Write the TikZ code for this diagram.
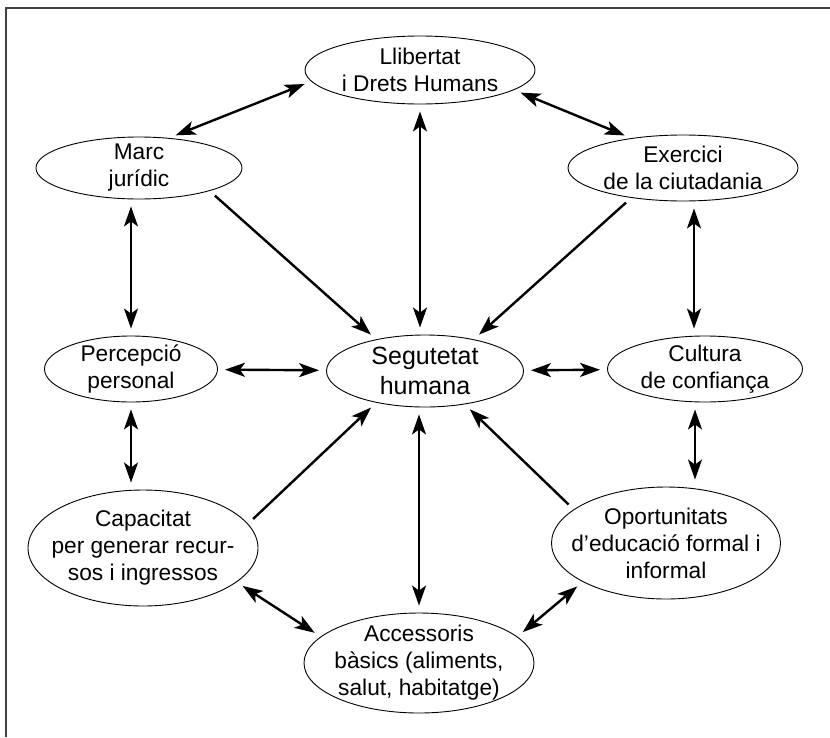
\documentclass[tikz,border=0pt]{standalone}
\usepackage{fontspec}
\setmainfont{Liberation Sans}
\usetikzlibrary{shapes.geometric,arrows.meta}
\begin{document}
\begin{tikzpicture}
        [
          x=1pt, y=-1pt,
          blob/.style={ellipse, draw, line width=0.9pt, align=center, inner xsep=-20pt, inner ysep=-6pt, font=\fontsize{22.7}{27}\selectfont},
          tip/.tip={Stealth[length=20pt,width=14pt,inset=5pt]},
          both/.style={line width=2.4pt, tip-tip, shorten <=7pt, shorten >=7pt},
          into/.style={line width=2.4pt, -tip, shorten <=7pt, shorten >=7pt},
          frame/.style={draw=black!75, line width=2pt}
        ]
        \useasboundingbox (0,0) rectangle (830,737);
        % frame
        \draw [frame] (830,7.5) -- (6,7.5) -- (6,737);
        % nodes
        \node [blob, minimum width=230pt, minimum height=68pt] (llib) at (420,70) {Llibertat\\i Drets Humans};
        \node [blob, minimum width=206pt, minimum height=62pt] (marc) at (139,168) {Marc\\jurídic};
        \node [blob, minimum width=230pt, minimum height=66pt] (exer) at (683,168) {Exercici\\de la ciutadania};
        \node [blob, minimum width=173pt, minimum height=66pt] (perc) at (131,369) {Percepció\\personal};
        \node [blob, minimum width=197pt, minimum height=72pt, font=\fontsize{25}{30}\selectfont] (seg) at (425,371) {Segutetat\\humana};
        \node [blob, minimum width=195pt, minimum height=66pt] (cult) at (705,369) {Cultura\\de confiança};
        \node [blob, minimum width=230pt, minimum height=116pt] (capa) at (143,548) {Capacitat\\per generar recur-\\sos i ingressos};
        \node [blob, minimum width=229pt, minimum height=112pt] (opor) at (666,543) {Oportunitats\\d’educació formal i\\informal};
        \node [blob, minimum width=230pt, minimum height=100pt] (acce) at (419,663) {Accessoris\\bàsics (aliments,\\salut, habitatge)};
        % arrows top
        \draw [both] (llib.186) -- (marc.45);
        \draw [both] (llib.-12) -- (exer.150);
        \draw [both] (llib) -- (llib |- seg.north);
        \draw [into] (marc.-18) -- (seg.147);
        \draw [into] (exer.210) -- (seg.33);
        % arrows middle
        \draw [both] (perc.north |- marc.south) -- (perc.north);
        \draw [both] ([xshift=11pt]exer.south) -- ([xshift=-11pt]cult.north);
        \draw [both] (perc) -- (seg);
        \draw [both] (seg) -- (cult);
        \draw [both] (perc.south) -- (perc.south |- capa.north);
        \draw [both] ([xshift=-10pt]cult.south) -- ([xshift=29pt]opor.north);
        % arrows bottom
        \draw [into] (capa.13) -- (seg.213);
        \draw [into] (opor.160) -- (seg.-40);
        \draw [both] (acce |- seg.south) -- (acce);
        \draw [both] (capa.-20) -- (acce.165);
        \draw [both] (acce.15) -- (opor.-155);
\end{tikzpicture}
\end{document}
